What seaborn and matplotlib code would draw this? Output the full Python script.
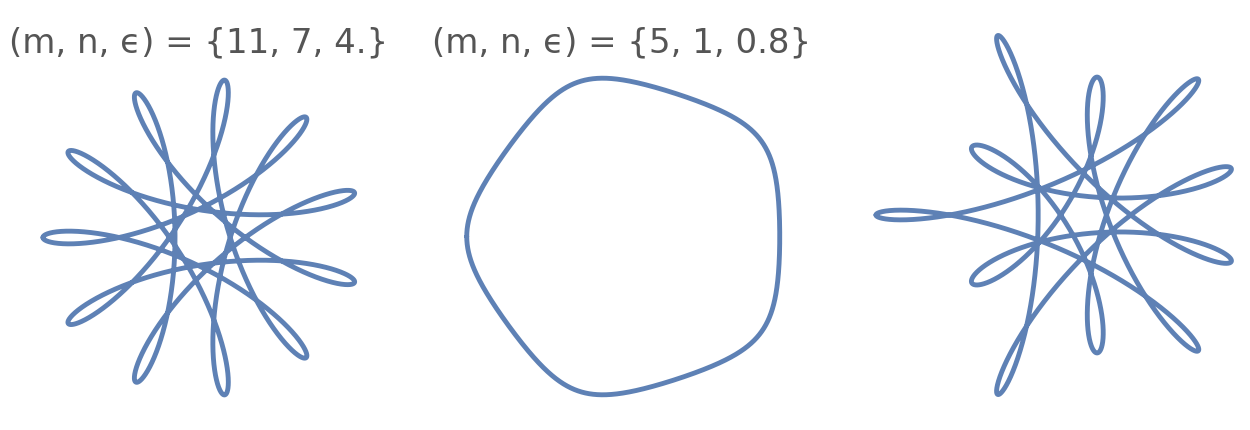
import numpy as np
import pandas as pd
import matplotlib
matplotlib.use("Agg")
import matplotlib.pyplot as plt
import seaborn as sns

# ---- data ----
m_vals = [11, 5, 11]
n_vals = [7, 1, 7]
eps_labels = ["4.", "0.8", None]          # third panel carries no label
coef_slow = [1.0, 0.04, 1.0]              # amplitude of the e^{-i(m-n)t} term
coef_fast = [0.71, 1.0, 0.71]             # amplitude of the e^{i n t} term
mod_slow = [0.0, 0.0, 0.27]               # cos(2t) modulation of the slow term (panel 3)
mod_fast = [0.0, 0.0, 0.19]               # cos(2t) modulation of the fast term (panel 3)

# ---- layout (pixels in a 1250x431 canvas) ----
W, H = 1250, 431
centers = [(202, 238.5), (629.5, 237.5), (1079, 216)]
scales = [93.0, 156.5, 96.0]              # px per unit
title_x = [199, 622]
title_baseline = 52

sns.set_theme(style="white")
plt.rcParams["font.family"] = ["DejaVu Sans"]

fig = plt.figure(figsize=(W / 100, H / 100), dpi=100)
fig.patch.set_facecolor("white")

color = "#5E81B5"
t = np.linspace(0, 2 * np.pi, 6000)

for i in range(3):
    m, n = m_vals[i], n_vals[i]
    z = -(coef_slow[i] * (1 + mod_slow[i] * np.cos(2 * t)) * np.exp(-1j * (m - n) * t)
          + coef_fast[i] * (1 + mod_fast[i] * np.cos(2 * t)) * np.exp(1j * n * t))
    df = pd.DataFrame({"x": z.real, "y": z.imag})
    ax = fig.add_axes([0, 0, 1, 1])
    ax.patch.set_alpha(0)
    sns.lineplot(data=df, x="x", y="y", sort=False, estimator=None, ax=ax,
                 color=color, lw=3.5, solid_capstyle="round", solid_joinstyle="round")
    cx, cy = centers[i]
    s = scales[i]
    ax.set_xlim(-cx / s, (W - cx) / s)
    ax.set_ylim(-(H - cy) / s, cy / s)
    ax.axis("off")
    if eps_labels[i] is not None:
        label = "(m, n, \u03f5) = {" + f"{m}, {n}, {eps_labels[i]}" + "}"
        fig.text(title_x[i] / W, 1 - title_baseline / H, label, ha="center",
                 va="baseline", fontsize=24.5, color="#555555")

fig.savefig("out.png", dpi=100, facecolor="white")
